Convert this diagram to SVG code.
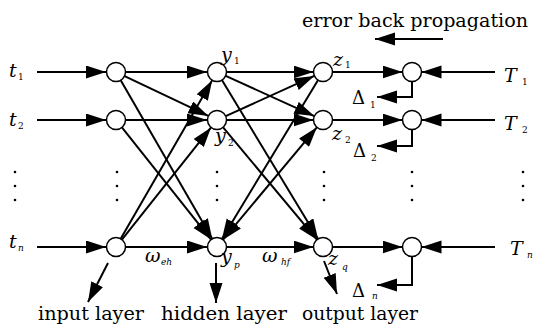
<svg xmlns="http://www.w3.org/2000/svg" width="534" height="326" viewBox="0 0 534 326">
<defs>
<style>
.c{fill:#fff;stroke:#000;stroke-width:1.5}
.l{stroke:#000;stroke-width:2;fill:none}
.a{marker-end:url(#ah)}
.v{font-family:"DejaVu Serif",serif;font-style:italic;font-size:19px;fill:#000}
.s{font-family:"DejaVu Serif",serif;font-size:9px;fill:#000}
.si{font-family:"DejaVu Serif",serif;font-style:italic;font-size:9px;fill:#000}
.d{font-family:"DejaVu Serif",serif;font-size:18px;fill:#000}
.t{font-family:"DejaVu Serif",serif;font-size:18px;fill:#000}
.dot{fill:#000}
</style>
<marker id="ah" markerUnits="userSpaceOnUse" markerWidth="21" markerHeight="14" refX="20" refY="6.5" orient="auto">
<path d="M0,0 L20,6.5 L0,13 z" fill="#000"/>
</marker>
<marker id="ahs" markerUnits="userSpaceOnUse" markerWidth="21" markerHeight="14" refX="0" refY="6.5" orient="auto">
<path d="M20,0 L0,6.5 L20,13 z" fill="#000"/>
</marker>
</defs>
<rect width="534" height="326" fill="#fff"/>
<g id="connectors">
<line class="l a" x1="37" y1="72" x2="106" y2="72"/>
<line class="l a" x1="37" y1="120" x2="106" y2="120"/>
<line class="l a" x1="37" y1="247" x2="106" y2="247"/>
<line class="l a" x1="125.5" y1="72" x2="207" y2="72"/>
<line class="l a" x1="125.5" y1="120" x2="207" y2="120"/>
<line class="l a" x1="125.5" y1="247" x2="207" y2="247"/>
<line class="l a" x1="124.6" y1="76.1" x2="208.4" y2="115.9"/>
<line class="l a" x1="120.7" y1="80.2" x2="212.2" y2="238.8"/>
<line class="l a" x1="121.9" y1="127.4" x2="211.1" y2="239.6"/>
<line class="l a" x1="120.7" y1="238.8" x2="212.2" y2="80.2"/>
<line class="l a" x1="121.9" y1="239.6" x2="211.1" y2="127.4"/>
<line class="l a" x1="226.5" y1="72" x2="313.5" y2="72"/>
<line class="l a" x1="226.5" y1="120" x2="313.5" y2="120"/>
<line class="l a" x1="226.5" y1="247" x2="313.5" y2="247"/>
<line class="l a" x1="225.7" y1="75.9" x2="314.3" y2="116.1"/>
<line class="l a" x1="221.9" y1="80.1" x2="318.1" y2="238.9"/>
<line class="l a" x1="223.1" y1="127.3" x2="316.9" y2="239.7"/>
<line class="l a" x1="225.7" y1="116.1" x2="314.3" y2="75.9"/>
<line class="l a" x1="318.1" y1="80.1" x2="221.9" y2="238.9"/>
<line class="l a" x1="316.9" y1="127.3" x2="223.1" y2="239.7" marker-start="url(#ahs)"/>
<line class="l a" x1="332.5" y1="72" x2="402.5" y2="72"/>
<line class="l a" x1="332.5" y1="120" x2="402.5" y2="120"/>
<line class="l a" x1="332.5" y1="247" x2="402.5" y2="247"/>
<line class="l a" x1="495" y1="72" x2="421.5" y2="72"/>
<line class="l a" x1="495" y1="120" x2="421.5" y2="120"/>
<line class="l a" x1="495" y1="247" x2="421.5" y2="247"/>
<path class="l a" d="M412,81.5 V97 H377"/>
<path class="l a" d="M412,129.5 V146 H377"/>
<path class="l a" d="M412,256.5 V285 H377"/>
<line class="l a" x1="443" y1="39" x2="375" y2="39"/>
<line class="l a" x1="108" y1="263" x2="88" y2="302"/>
<line class="l a" x1="216" y1="263" x2="216" y2="303"/>
<line class="l a" x1="324" y1="261" x2="337" y2="294"/>
</g>
<g id="input1"><circle class="c" cx="116" cy="72" r="9.5"/></g>
<g id="input2"><circle class="c" cx="116" cy="120" r="9.5"/></g>
<g id="inputn"><circle class="c" cx="116" cy="247" r="9.5"/></g>
<g id="hidden1"><circle class="c" cx="217" cy="72" r="9.5"/></g>
<g id="hidden2"><circle class="c" cx="217" cy="120" r="9.5"/></g>
<g id="hiddenp"><circle class="c" cx="217" cy="247" r="9.5"/></g>
<g id="output1"><circle class="c" cx="323" cy="72" r="9.5"/></g>
<g id="output2"><circle class="c" cx="323" cy="120" r="9.5"/></g>
<g id="outputq"><circle class="c" cx="323" cy="247" r="9.5"/></g>
<g id="error1"><circle class="c" cx="412" cy="72" r="9.5"/></g>
<g id="error2"><circle class="c" cx="412" cy="120" r="9.5"/></g>
<g id="errorn"><circle class="c" cx="412" cy="247" r="9.5"/></g>
<g id="dots">
<circle class="dot" cx="15" cy="172" r="1.3"/><circle class="dot" cx="15" cy="186" r="1.3"/><circle class="dot" cx="15" cy="200" r="1.3"/>
<circle class="dot" cx="117" cy="172" r="1.3"/><circle class="dot" cx="117" cy="186" r="1.3"/><circle class="dot" cx="117" cy="200" r="1.3"/>
<circle class="dot" cx="217" cy="172" r="1.3"/><circle class="dot" cx="217" cy="186" r="1.3"/><circle class="dot" cx="217" cy="200" r="1.3"/>
<circle class="dot" cx="324" cy="172" r="1.3"/><circle class="dot" cx="324" cy="186" r="1.3"/><circle class="dot" cx="324" cy="200" r="1.3"/>
<circle class="dot" cx="412" cy="172" r="1.3"/><circle class="dot" cx="412" cy="186" r="1.3"/><circle class="dot" cx="412" cy="200" r="1.3"/>
<circle class="dot" cx="523" cy="172" r="1.3"/><circle class="dot" cx="523" cy="186" r="1.3"/><circle class="dot" cx="523" cy="200" r="1.3"/>
</g>
<g id="labels">
<text class="v" x="9" y="77">t</text><text class="s" x="18" y="80">1</text>
<text class="v" x="9" y="126">t</text><text class="s" x="18" y="129">2</text>
<text class="v" x="9" y="248">t</text><text class="si" x="18" y="251">n</text>
<text class="v" x="221" y="61">y</text><text class="s" x="234" y="64">1</text>
<text class="v" x="215" y="142">y</text><text class="s" x="228" y="146">2</text>
<text class="v" x="221" y="263">y</text><text class="si" x="234" y="268">p</text>
<text class="v" x="333" y="66">z</text><text class="s" x="345" y="68">1</text>
<text class="v" x="332" y="140">z</text><text class="s" x="345" y="143">2</text>
<text class="v" x="328" y="265">z</text><text class="si" x="342" y="270">q</text>
<text class="v" x="145" y="262">ω</text><text class="si" x="161" y="265">eh</text>
<text class="v" x="262" y="262">ω</text><text class="si" x="281" y="265">hf</text>
<text class="v" x="504" y="82">T</text><text class="s" x="522" y="85">1</text>
<text class="v" x="504" y="130">T</text><text class="s" x="522" y="133">2</text>
<text class="v" x="510" y="255">T</text><text class="si" x="527" y="258">n</text>
<text class="d" x="352" y="104">Δ</text><text class="s" x="370" y="108">1</text>
<text class="d" x="353" y="157">Δ</text><text class="s" x="371" y="161">2</text>
<text class="d" x="352" y="297">Δ</text><text class="si" x="372" y="299">n</text>
<text class="t" x="302" y="27" textLength="226" lengthAdjust="spacingAndGlyphs">error back propagation</text>
<text class="t" x="38" y="320" textLength="106" lengthAdjust="spacingAndGlyphs">input layer</text>
<text class="t" x="161" y="320" textLength="126" lengthAdjust="spacingAndGlyphs">hidden layer</text>
<text class="t" x="302" y="320" textLength="116" lengthAdjust="spacingAndGlyphs">output layer</text>
</g>
</svg>
